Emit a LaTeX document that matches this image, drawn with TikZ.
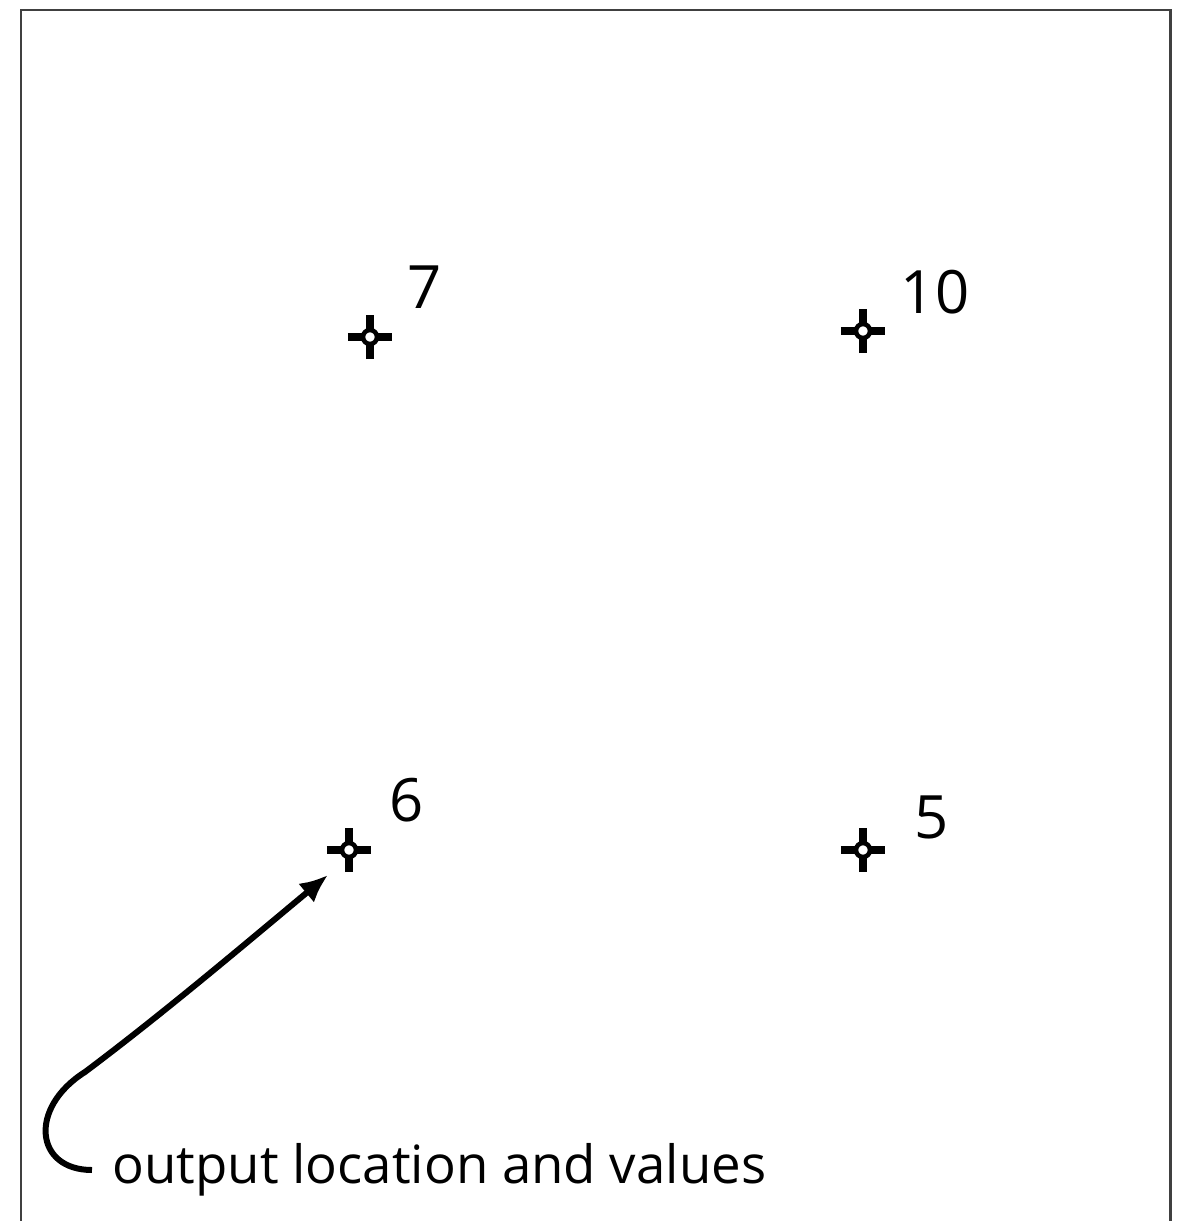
\documentclass[tikz,border=0pt]{standalone}
\usepackage{fontspec}
\setmainfont{Open Sans}
\usetikzlibrary{arrows.meta, positioning}
\tikzset{
	frame/.style={draw=black!75, line width=0.85pt},
	crossarm/.style={line width=2.1pt, black},
	value/.style={font=\fontsize{17}{20}\selectfont, inner sep=0pt},
	note/.style={font=\fontsize{15}{18}\selectfont, inner sep=0pt},
	pointer/.style={line width=1.7pt, -{Latex[length=8pt, width=7pt]}}
}

\begin{document}
\begin{tikzpicture}[x=0.01cm, y=-0.01cm]
		\useasboundingbox (0,0) rectangle (1179,1221);
		
		% Frame (bottom edge lies outside the picture)
		\draw[frame] (21,1240) -- (21,10) -- (1170,10) -- (1170,1240);
		
		% Output locations with their values
		\foreach \name/\px/\py/\val/\lx/\ly in {p7/370/337/7/425/287, p10/863/331/10/935/292, p6/349/850/6/407/800, p5/863/850/5/932/817} {
			\coordinate (\name) at (\px,\py);
			\draw[crossarm] ([xshift=-0.22cm]\name) -- ([xshift=-0.07cm]\name)
				([xshift=0.07cm]\name) -- ([xshift=0.22cm]\name)
				([yshift=-0.22cm]\name) -- ([yshift=-0.07cm]\name)
				([yshift=0.07cm]\name) -- ([yshift=0.22cm]\name);
			\draw[black, fill=white, line width=1.3pt] (\name) circle (0.07cm);
			\node[value] (v\name) at (\lx,\ly) {\val};
		}
		
		% Caption with pointer to the output location
		\node[note, anchor=west] (caption) at (112,1170) {output location and values};
		\coordinate (tip) at (328,875);
		\draw[pointer] ([xshift=-0.2cm]caption.west) .. controls (35,1170) and (28,1108) .. (85,1072)
			.. controls (165,1012) and (245,944) .. (tip);
		
	\end{tikzpicture}
\end{document}
